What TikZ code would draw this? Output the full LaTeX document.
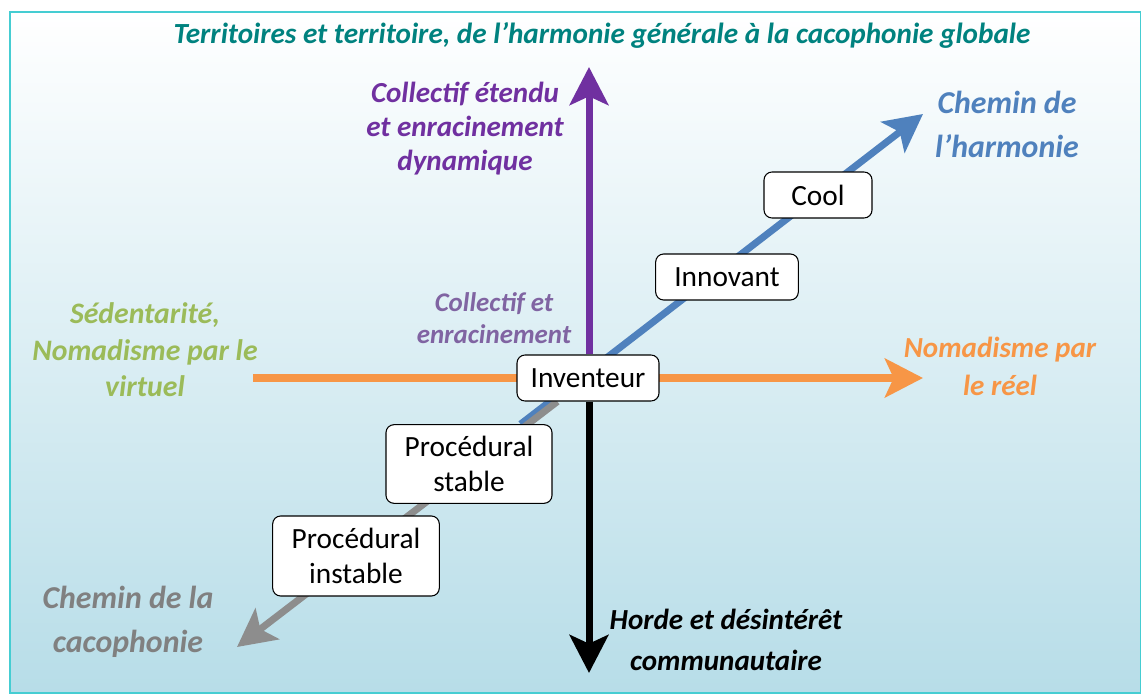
\documentclass[tikz,border=0pt]{standalone}
\usepackage{fontspec}
\setmainfont{Carlito}
\usepackage{tikz}
\usetikzlibrary{arrows.meta, positioning, backgrounds}
\definecolor{framecolor}{HTML}{45CDD2}
\definecolor{skycolor}{HTML}{B7DDE8}
\definecolor{titlecolor}{HTML}{00827F}
\definecolor{upcolor}{HTML}{7030A0}
\definecolor{collcolor}{HTML}{8064A2}
\definecolor{sedcolor}{HTML}{9BBB59}
\definecolor{nomcolor}{HTML}{F79646}
\definecolor{harmcolor}{HTML}{4F81BD}
\definecolor{cacocolor}{HTML}{808080}
\pgfdeclarelayer{backdrop}
\pgfsetlayers{backdrop,background,main}

\begin{document}
\begin{tikzpicture}[x=0.75pt, y=-0.75pt,
    % Profile boxes: white rounded rectangles sitting on the axes.
    profile/.style={rectangle, draw=black, fill=white, thick,
                    rounded corners=6pt, align=center,
                    minimum height=34.5pt, inner xsep=4pt, inner ysep=2pt,
                    font=\fontsize{22}{26.5}\selectfont},
    % Axis labels: bold italic, centred lines.
    axislabel/.style={align=center, inner sep=0pt,
                      font=\fontsize{21.8}{25.5}\selectfont\bfseries\itshape},
    % Axis arrows: thick shafts with a wide notched head.
    axis/.style={line width=5.25pt,
                 -{Stealth[length=28.5pt, width=29pt, inset=6.5pt]}}
]

    % === Page frame and gradient ===
    \useasboundingbox (0,0) rectangle (1141,695);
    \begin{pgfonlayer}{backdrop}
        \shade[top color=white, bottom color=skycolor]
            (10,12) rectangle (1141,693);
        \draw[framecolor, line width=2.2pt] (10,12) rectangle (1141,693);
    \end{pgfonlayer}

    % === Title ===
    \node[axislabel, text=titlecolor, font=\fontsize{21.9}{26}\selectfont\bfseries\itshape]
        (title) at (602,35)
        {Territoires et territoire, de l’harmonie générale à la cacophonie globale};

    % === Profiles along the diagonal ===
    \node[profile, minimum width=106.5pt] (inventeur) at (588,378) {Inventeur};
    \node[profile, minimum width=107pt]   (innovant)  at (727,277) {Innovant};
    \node[profile, minimum width=81pt]    (cool)      at (818,195) {Cool};
    \node[profile, minimum width=124.5pt, minimum height=59pt]
        (pstable) at (469,464) {Procédural\\stable};
    \node[profile, minimum width=125pt, minimum height=60pt]
        (pinstable) at (356,556) {Procédural\\instable};

    % === Arrow ends ===
    \coordinate (uptip)    at (589,67);
    \coordinate (downtip)  at (589,673);
    \coordinate (westend)  at (253,378);
    \coordinate (easttip)  at (923,378);
    \coordinate (harmtip)  at (923,114);
    \coordinate (cacotip)  at (237,647);

    % === Axis labels ===
    \node[axislabel, text=upcolor] (uplbl) at (465,129)
        {Collectif étendu\\et enracinement\\dynamique};
    \node[axislabel, text=collcolor,
          font=\fontsize{20.2}{24.5}\selectfont\bfseries\itshape]
        (colllbl) at (494,318) {Collectif et\\enracinement};
    \node[axislabel, text=sedcolor, font=\fontsize{22.3}{27.5}\selectfont\bfseries\itshape]
        (sedlbl) at (145,350) {Sédentarité,\\Nomadisme par le\\virtuel};
    \node[axislabel, text=nomcolor, font=\fontsize{21.8}{28.5}\selectfont\bfseries\itshape]
        (nomlbl) at (1000,366) {Nomadisme par\\le réel};
    \node[axislabel, text=harmcolor, font=\fontsize{23.9}{33}\selectfont\bfseries\itshape]
        (harmlbl) at (1007,124) {Chemin de\\l’harmonie};
    \node[axislabel, text=cacocolor, font=\fontsize{23.9}{33}\selectfont\bfseries\itshape]
        (cacolbl) at (128,622) {Chemin de la\\cacophonie};
    \node[axislabel, text=black, font=\fontsize{21.8}{30.5}\selectfont\bfseries\itshape]
        (hordelbl) at (726,640) {Horde et désintérêt\\communautaire};

    % === Axes, behind the boxes ===
    \begin{scope}[on background layer]
        \draw[axis, nomcolor, line width=6pt] (westend) -- (easttip);
        \draw[axis, harmcolor] (pstable) -- (harmtip);
        \draw[axis, cacocolor!90] (inventeur) -- (cacotip);
        \draw[axis, upcolor] (inventeur.north -| uptip) -- (uptip);
        \draw[axis, black] (inventeur.south -| downtip) -- (downtip);
    \end{scope}

\end{tikzpicture}
\end{document}
